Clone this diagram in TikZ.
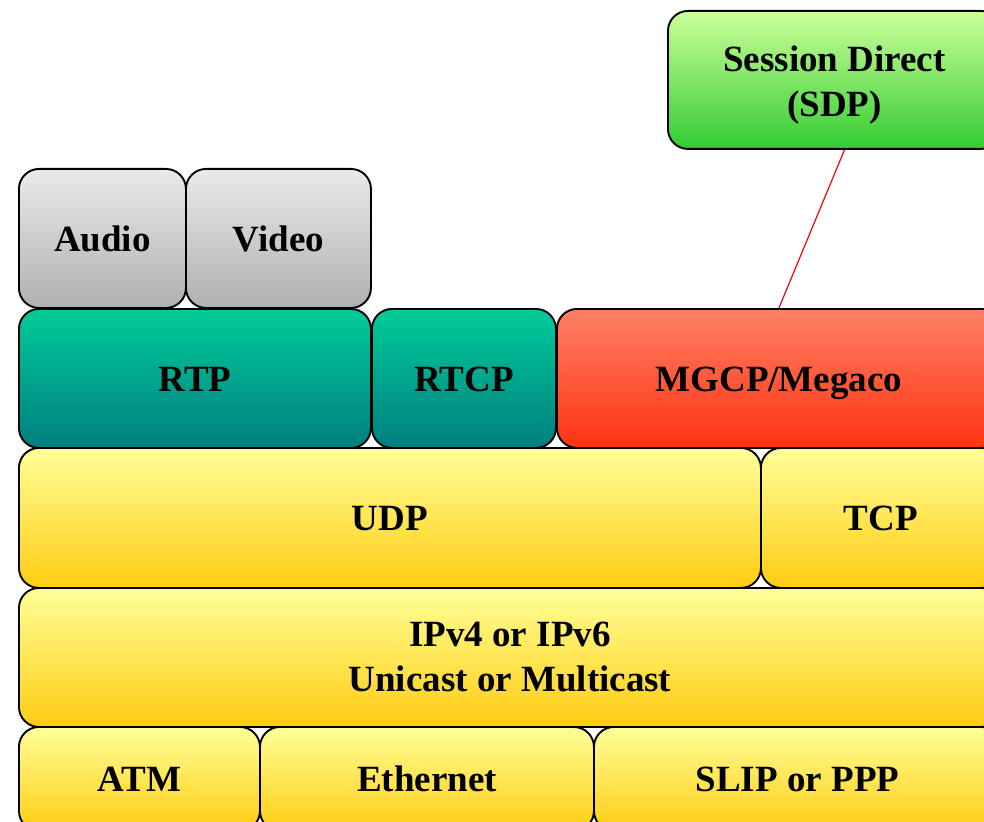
\documentclass[tikz,border=0pt]{standalone}
\usepackage{fontspec}
\setmainfont{Liberation Serif}
\usetikzlibrary{calc}
\definecolor{grayT}{HTML}{EAEAEA}
\definecolor{grayB}{HTML}{B0B0B0}
\definecolor{tealT}{HTML}{00CC99}
\definecolor{tealB}{HTML}{007F7F}
\definecolor{redT}{HTML}{FF8066}
\definecolor{redB}{HTML}{FF3311}
\definecolor{greenT}{HTML}{CCFF99}
\definecolor{greenB}{HTML}{33CC33}
\definecolor{yelT}{HTML}{FFFF99}
\definecolor{yelB}{HTML}{FFCC11}
\tikzset{
  layer/.style={draw=black, line width=1.9pt, rounded corners=20pt, anchor=north west,
    inner sep=0pt, align=center, text height=26pt, text depth=0pt,
    font=\fontsize{37}{45}\selectfont\bfseries},
  twoline/.style={text height=, text depth=},
  grayL/.style={layer, top color=grayT, bottom color=grayB},
  tealL/.style={layer, top color=tealT, bottom color=tealB},
  redL/.style={layer, top color=redT, bottom color=redB},
  greenL/.style={layer, top color=greenT, bottom color=greenB},
  yelL/.style={layer, top color=yelT, bottom color=yelB},
  sz/.style 2 args={minimum width=#1pt, minimum height=#2pt}
}
\begin{document}
\begin{tikzpicture}[x=1pt,y=-1pt]
\useasboundingbox (0,0) rectangle (984,821);
\clip (0,0) rectangle (984,821);
\fill[white] (0,0) rectangle (984,821);
\node[greenL, twoline, sz={333}{138}] (sdp) at (667,10) {\raisebox{-5pt}[\height][\depth]{\begin{tabular}{@{}c@{}}Session Direct\\(SDP)\end{tabular}}};
\node[grayL, sz={167}{139}] (audio) at (18,168) {Audio};
\node[grayL, sz={185}{139}] (video) at (185,168) {Video};
\node[tealL, sz={352}{139}] (rtp) at (18,308) {RTP};
\node[tealL, sz={184}{139}] (rtcp) at (371,308) {RTCP};
\node[redL, sz={444}{139}] (mgcp) at (556,308) {MGCP/Megaco};
\node[yelL, sz={742}{140}] (udp) at (18,447) {UDP};
\node[yelL, sz={240}{140}] (tcp) at (760,447) {TCP};
\node[yelL, twoline, sz={982}{139}] (ip) at (18,587) {IPv4 or IPv6\\Unicast or Multicast};
\node[yelL, sz={241}{104}] (atm) at (18,726) {ATM};
\node[yelL, sz={334}{104}] (eth) at (259,726) {Ethernet};
\node[yelL, sz={407}{104}] (slip) at (593,726) {SLIP or PPP};
\draw[red, line width=1.2pt] ([xshift=10pt]sdp.south) -- (mgcp.north);
\end{tikzpicture}
\end{document}
